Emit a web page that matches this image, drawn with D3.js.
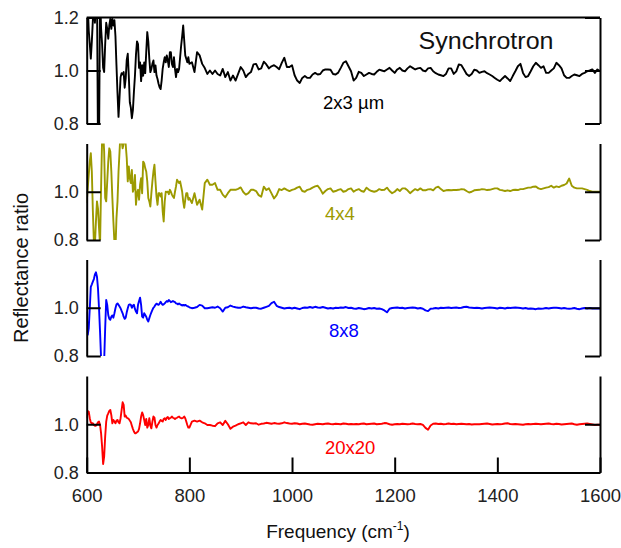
<!DOCTYPE html>
<html>
<head>
<meta charset="UTF-8">
<script src="https://cdn.jsdelivr.net/npm/d3@7"></script>
<style>
  body { margin: 0; background: #fff; }
  text { font-family: "Liberation Sans", Arial, Helvetica, sans-serif; }
</style>
</head>
<body>
<div id="chart"></div>
<script>
// frequency grid (cm-1): fine steps over the oscillating part, coarser after
var freq = d3.range(600, 800, 2).concat(d3.range(800, 1601, 5));

var xTicks = [600, 800, 1000, 1200, 1400, 1600];
var sizeLabels = ["2x3 \u00b5m", "4x4", "8x8", "20x20"];
var colors = ["#000000", "#9c9a00", "#0000ff", "#ff0000"];

var ratio2x3 = [
  1.25,1.25,1.15,1.10,1.045,1.11,1.19,1.25,1.18,1.25,
  1.3,0.7,0.7,1.3,1.16,1.10,1.01,0.994,1.10,1.18,
  1.157,1.12,1.17,1.195,1.157,1.195,1.17,1.19,1.13,1.02,
  0.915,0.825,0.90,0.975,0.99,0.985,0.994,0.935,0.97,1.04,
  1.063,0.98,0.88,0.86,0.82,0.85,0.92,0.98,1.06,1.11,
  1.10,1.01,1.03,0.96,1.02,0.98,1.03,0.99,1.07,1.145,
  1.11,1.044,0.994,1.006,1.025,1.038,0.994,1.019,0.981,0.968,
  0.95,0.937,0.93,0.962,1.006,1.031,1.05,1.031,1.057,1.038,
  1.013,1.069,1.069,1.025,1.013,1.05,1.006,0.975,1.006,0.994,
  1.006,1.05,1.094,1.13,1.17,1.113,1.057,1.044,1.031,1.05,
  // 800 - 920
  1.025,1.031,0.994,1.069,1.057,1.025,1.009,0.987,1.0,0.987,
  1.0,0.987,0.981,1.006,0.975,0.994,0.962,0.981,0.962,0.987,
  1.013,1.0,0.975,0.987,0.994,
  // 925 - 1600
  1.023,1.025,1.004,1.008,1.033,1.023,1.008,1.016,1.020,1.013,
  1.005,1.029,1.048,1.013,1.013,1.020,0.982,0.962,0.953,0.972,
  0.979,0.972,0.972,0.985,0.991,0.985,0.987,1.0,1.004,1.004,
  1.003,0.987,0.985,0.992,1.010,1.029,1.035,1.016,0.997,0.962,
  0.972,0.995,0.991,0.979,0.985,0.991,0.987,0.985,0.995,1.003,
  1.0,0.997,1.004,1.010,1.0,0.991,1.004,1.010,1.0,0.997,
  1.008,1.016,1.010,1.004,1.008,1.010,1.0,0.997,1.008,1.010,
  0.997,0.990,0.985,0.982,0.979,0.987,1.008,1.008,0.987,0.997,
  1.023,1.020,1.004,0.987,0.979,0.987,1.003,1.0,0.991,0.995,
  0.997,0.990,0.985,0.979,0.972,0.965,0.960,0.970,0.979,0.970,
  0.960,0.979,0.997,1.016,1.025,0.991,0.975,0.979,0.997,1.016,
  1.029,1.020,1.010,1.016,0.991,0.991,1.0,1.008,1.029,1.020,
  1.008,0.982,0.972,0.972,0.979,0.985,0.982,0.979,0.987,0.991,
  0.997,1.0,1.004,0.991,1.004,0.997
];

var ratio4x4 = [
  0.953,1.015,1.07,1.125,1.16,1.084,0.92,0.79,0.78,0.877,
  0.96,0.93,0.85,0.78,1.015,1.22,1.25,1.167,0.974,0.96,
  1.043,1.125,1.18,1.167,1.084,0.974,0.877,0.79,0.76,0.89,
  0.96,1.084,1.167,1.25,1.21,1.18,1.2,1.25,1.195,1.14,
  1.043,1.105,1.056,1.036,1.09,1.0,1.015,1.07,0.946,0.994,
  1.008,0.967,1.029,1.056,0.994,1.125,1.118,1.098,1.084,1.043,
  0.974,0.96,0.939,0.994,1.043,1.084,1.112,1.043,0.98,0.946,
  0.994,0.994,0.98,0.994,0.92,0.877,0.96,1.0,0.999,1.0,
  0.99,1.008,1.0,0.988,0.98,0.974,1.0,1.022,1.05,1.043,
  1.036,1.043,1.022,1.0,0.96,0.933,0.967,0.994,0.994,0.967,
  // 800 - 920
  0.974,0.953,0.994,0.946,0.967,0.926,1.036,1.05,1.029,1.029,
  1.036,1.008,1.008,0.988,0.977,0.994,1.008,1.008,1.008,1.012,
  1.018,0.999,0.988,0.994,1.008,
  // 925 - 1600
  1.008,1.003,0.986,0.979,1.021,1.007,1.014,0.993,0.972,0.986,
  1.011,1.007,1.014,1.008,1.003,1.008,1.011,1.017,1.021,1.003,
  1.0,1.008,1.011,1.017,1.022,1.025,1.011,0.992,1.003,1.011,
  1.014,1.0,1.003,1.008,1.011,1.0,1.003,1.011,1.014,1.0,
  1.007,1.011,1.003,1.0,1.017,1.008,1.003,1.0,1.003,1.011,
  1.007,1.008,1.017,1.003,0.994,1.0,1.011,1.003,1.014,1.014,
  1.006,0.994,1.003,1.011,1.006,1.014,1.006,1.006,1.01,1.011,
  1.006,1.017,1.021,1.011,1.003,1.006,1.007,1.006,1.007,1.007,
  1.008,1.011,1.01,1.003,0.997,1.0,1.006,1.007,1.008,1.011,
  1.01,1.007,1.008,1.011,1.014,1.014,1.008,1.006,1.003,1.006,
  1.003,1.007,1.008,1.007,1.011,1.011,1.014,1.017,1.017,1.021,
  1.022,1.014,1.011,1.014,1.017,1.019,1.025,1.017,1.022,1.019,
  1.025,1.028,1.034,1.055,1.025,1.017,1.014,1.014,1.014,1.011,
  1.008,1.003,1.0,1.0,1.0,1.0
];

var ratio8x8 = [
  0.984,0.888,0.915,0.998,1.087,1.097,1.108,1.119,1.138,1.147,
  1.129,1.08,0.998,0.901,0.79,0.75,0.75,0.78,0.915,1.032,
  1.012,0.97,0.954,0.95,0.963,0.968,0.959,0.977,0.998,1.014,
  1.018,1.012,1.005,0.998,0.987,0.977,0.963,0.954,0.959,0.981,
  0.998,1.012,1.014,1.012,1.0,1.009,1.012,0.995,0.984,0.977,
  1.012,1.028,1.042,1.012,0.963,0.959,0.977,0.97,0.963,0.95,
  0.943,0.957,0.97,0.981,0.991,1.0,1.005,1.012,1.017,1.014,
  1.012,1.017,1.025,1.017,1.012,1.014,1.018,1.023,1.028,1.025,
  1.032,1.028,1.023,1.025,1.028,1.025,1.023,1.018,1.017,1.014,
  1.018,1.014,1.012,1.009,1.012,1.009,1.012,1.009,1.006,1.005,
  // 800 - 920
  1.002,0.998,1.0,1.003,1.012,1.009,0.998,0.998,1.0,1.002,
  1.0,1.005,0.998,0.984,1.0,1.002,1.009,1.005,1.002,1.0,
  1.0,1.005,1.002,1.0,0.998,
  // 925 - 1600
  1.0,1.0,0.997,0.996,1.0,1.004,1.008,1.019,1.025,1.008,
  1.003,1.0,0.997,0.999,1.0,0.997,1.0,0.997,0.994,0.999,
  1.001,1.0,1.003,1.0,1.004,1.001,1.0,1.003,1.0,0.997,
  0.999,0.997,1.0,0.999,1.001,1.0,1.003,0.999,1.0,0.997,
  0.996,0.999,0.997,0.994,0.996,0.999,0.997,0.999,0.996,0.997,
  0.994,0.989,0.981,0.996,0.999,1.0,1.001,0.999,1.0,0.997,
  0.999,1.0,1.001,1.0,0.997,0.999,0.996,0.989,0.986,0.996,
  0.997,0.999,0.997,1.0,0.999,1.0,1.001,0.999,1.0,1.001,
  0.999,1.0,1.003,1.004,1.001,1.0,0.999,1.0,0.999,0.997,
  0.999,1.0,1.001,1.0,0.999,0.997,1.0,0.999,0.997,1.0,
  0.999,1.0,1.001,1.0,0.999,0.997,0.999,0.996,0.997,0.996,
  0.994,0.997,0.996,0.997,0.999,0.997,0.999,1.0,1.0,0.999,
  0.997,0.999,0.997,0.996,0.997,0.999,0.996,0.994,0.997,0.999,
  0.997,0.999,0.997,0.997,0.997,0.997
];

var ratio20x20 = [
  1.025,1.055,1.052,1.025,1.007,1.004,1.004,0.997,0.994,0.994,
  1.0,1.008,1.011,0.997,0.963,0.908,0.835,0.866,0.949,1.011,
  1.036,1.045,1.055,1.059,1.038,1.004,1.018,1.011,1.004,1.015,
  1.018,1.008,1.004,1.025,1.059,1.091,1.08,1.032,1.036,1.027,
  1.025,1.022,1.015,1.008,0.994,0.981,0.97,0.963,0.963,0.967,
  0.97,0.981,1.004,1.032,1.049,1.038,1.018,0.997,1.022,0.986,
  0.997,1.025,0.994,0.983,1.011,1.032,1.027,0.997,0.986,0.997,
  1.003,1.011,1.018,1.014,1.011,1.022,1.025,1.018,1.027,1.03,
  1.022,1.025,1.027,1.032,1.027,1.025,1.022,1.025,1.027,1.03,
  1.032,1.027,1.025,1.025,1.027,1.032,1.025,1.011,0.997,0.986,
  // 800 - 920
  0.986,1.011,1.015,1.011,1.015,1.008,1.004,0.997,0.997,0.994,
  0.992,1.004,1.008,0.997,1.014,1.0,0.981,0.99,0.994,1.0,
  1.004,1.008,0.997,1.008,1.004,
  // 925 - 1600
  1.003,1.004,0.998,1.002,1.003,1.006,1.004,1.002,1.005,1.003,
  1.002,1.004,1.008,1.005,1.003,1.002,1.004,1.003,1.0,1.002,
  1.003,1.001,0.999,0.998,1.0,1.002,1.001,1.0,1.002,1.003,
  1.001,1.0,1.002,1.001,1.0,1.003,1.002,1.0,1.001,1.0,
  1.001,1.0,1.002,1.003,1.0,1.001,1.002,1.003,1.0,1.001,
  1.002,1.005,1.004,1.0,0.998,1.0,1.001,1.0,1.002,1.001,
  1.0,1.001,1.003,1.001,1.0,1.001,0.997,0.985,0.977,0.995,
  1.002,1.003,1.001,1.002,1.0,1.001,1.003,1.001,1.002,1.0,
  1.001,1.002,1.001,1.0,1.001,0.999,1.0,1.0,1.0,1.001,
  1.002,1.003,1.001,0.999,1.0,1.001,1.0,1.001,1.003,1.004,
  1.001,1.0,1.001,1.0,0.999,0.998,1.0,1.001,1.0,1.001,
  1.002,1.001,1.0,1.001,1.002,1.003,1.001,1.0,1.002,1.001,
  0.999,1.0,1.001,1.002,1.003,1.0,0.998,1.0,1.001,1.002,
  1.003,1.001,0.999,0.997,0.998,0.998
];

var series = [ratio2x3, ratio4x4, ratio8x8, ratio20x20];

// layout
var W = 621, H = 548;
var x0 = 86.7, x1 = 600;
var panelTop = [17.5, 143.5, 259.5, 376];
var panelBottom = [123.5, 240, 356, 472.5];
var panelTicks = [[0.8, 1.0, 1.2], [0.8, 1.0], [0.8, 1.0], [0.8, 1.0]];
var labelPos = [[323, 108.5], [325, 219.5], [329, 337], [325, 454]];

var svg = d3.select("#chart").append("svg")
  .attr("width", W).attr("height", H);

var x = d3.scaleLinear().domain([600, 1600]).range([x0, x1]);
var fmt = d3.format(".1f");

series.forEach(function(vals, p) {
  var y = d3.scaleLinear().domain([0.8, 1.2]).range([panelBottom[p], panelTop[p]]);
  var g = svg.append("g");

  g.append("clipPath").attr("id", "clip" + p)
    .append("rect")
    .attr("x", x0).attr("y", panelTop[p])
    .attr("width", x1 - x0).attr("height", panelBottom[p] - panelTop[p]);

  var pts = vals.map(function(v, i) { return [freq[i], v]; });
  var line = d3.line().x(function(d) { return x(d[0]); }).y(function(d) { return y(d[1]); });

  g.append("path")
    .datum(pts)
    .attr("clip-path", "url(#clip" + p + ")")
    .attr("fill", "none")
    .attr("stroke", colors[p])
    .attr("stroke-width", 1.9)
    .attr("stroke-linejoin", "round")
    .attr("d", line);

  // left axis
  var left = g.append("g").attr("transform", "translate(" + x0 + ",0)")
    .call(d3.axisLeft(y).tickValues(panelTicks[p]).tickFormat(fmt)
      .tickSizeInner(-14).tickSizeOuter(0).tickPadding(8));
  // right axis
  var right = g.append("g").attr("transform", "translate(" + x1 + ",0)")
    .call(d3.axisRight(y).tickValues(panelTicks[p]).tickFormat("")
      .tickSizeInner(-15).tickSizeOuter(0));

  [left, right].forEach(function(a) {
    a.selectAll("path, line").attr("stroke", "#000").attr("stroke-width", 2);
    a.selectAll("text").attr("font-size", 18).attr("fill", "#222")
      .attr("font-family", "Liberation Sans, Arial, sans-serif");
  });

  if (p === 0) {
    g.append("line")
      .attr("x1", x0).attr("x2", x1)
      .attr("y1", y(1.2)).attr("y2", y(1.2))
      .attr("stroke", "#000").attr("stroke-width", 2);
  }

  if (p === series.length - 1) {
    var bottom = g.append("g").attr("transform", "translate(0," + panelBottom[p] + ")")
      .call(d3.axisBottom(x).tickValues(xTicks).tickFormat(d3.format("d"))
        .tickSizeInner(-15).tickSizeOuter(0).tickPadding(16));
    bottom.selectAll("path, line").attr("stroke", "#000").attr("stroke-width", 2);
    bottom.selectAll("text").attr("font-size", 18.5).attr("fill", "#222")
      .attr("font-family", "Liberation Sans, Arial, sans-serif");
  }

  g.append("text")
    .attr("x", labelPos[p][0]).attr("y", labelPos[p][1])
    .attr("font-size", 18.5)
    .attr("fill", colors[p])
    .text(sizeLabels[p]);
});

svg.append("text")
  .attr("x", 418.5).attr("y", 49)
  .attr("font-size", 24)
  .attr("textLength", 135)
  .attr("lengthAdjust", "spacingAndGlyphs")
  .attr("fill", "#111")
  .text("Synchrotron");

svg.append("text")
  .attr("transform", "translate(27.5,268) rotate(-90)")
  .attr("text-anchor", "middle")
  .attr("font-size", 20)
  .attr("fill", "#111")
  .text("Reflectance ratio");

var xl = svg.append("text")
  .attr("x", 338).attr("y", 538)
  .attr("text-anchor", "middle")
  .attr("font-size", 19)
  .attr("fill", "#111");
xl.append("tspan").text("Frequency (cm");
xl.append("tspan").attr("font-size", 12).attr("dy", -8).text("-1");
xl.append("tspan").attr("dy", 8).text(")");
</script>
</body>
</html>
